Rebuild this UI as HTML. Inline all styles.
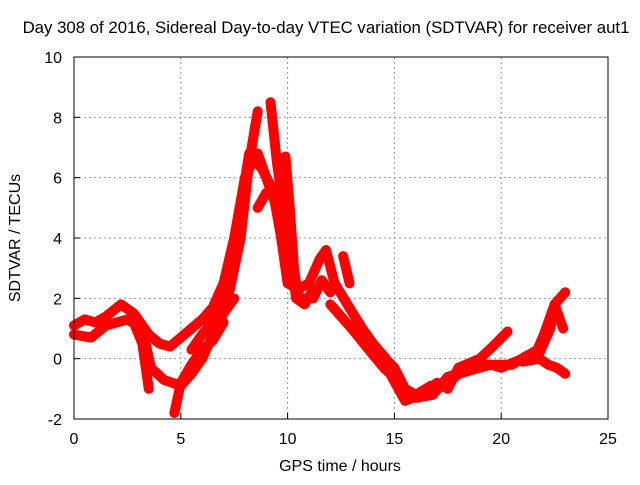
<!DOCTYPE html>
<html><head><meta charset="utf-8"><style>
body{margin:0;background:#fff}
svg text{font-family:"Liberation Sans",sans-serif;font-size:16px;fill:#000}
</style></head><body>
<svg id="chart" width="640" height="480" viewBox="0 0 640 480" xmlns="http://www.w3.org/2000/svg">
<text x="326" y="33" text-anchor="middle" style="font-size:16.8px">Day 308 of 2016, Sidereal Day-to-day VTEC variation (SDTVAR) for receiver aut1</text>
<g id="grid"></g>
<g id="series"></g>
<rect x="74" y="57" width="534" height="362" fill="none" stroke="#000" stroke-width="1"/>
<g id="ticks"></g>
<text x="340" y="471" text-anchor="middle">GPS time / hours</text>
<text transform="translate(20,238) rotate(-90)" text-anchor="middle">SDTVAR / TECUs</text>
</svg>
<script>
const xTicks=[0,5,10,15,20,25];
const yTicks=[-2,0,2,4,6,8,10];
const sA=[[0,1.1],[0.5,1.3],[1,1.2],[1.5,1.4],[2.2,1.8],[2.8,1.5],[3.5,0.8],[4,0.5],[4.5,0.4],[5,0.7],[5.5,1.0],[6,1.3],[6.5,1.7],[7,2.5],[7.5,4],[8,6],[8.4,6.6],[8.8,6.3],[9.3,5.6],[9.7,4],[10,2.5],[10.5,2.3],[11,2.5],[11.5,3.3],[11.8,3.6],[12.2,2.5],[12.8,1.8],[13.5,1.0],[14.3,0.2],[15,-0.3],[15.5,-1.0],[16,-1.2],[16.7,-0.9],[17.5,-0.8],[18.2,-0.4],[19,-0.2],[19.5,-0.2],[20,-0.3],[21,0.0],[21.7,0.3],[22,0.8],[22.5,1.8],[23,2.2]];
const sB=[[5.5,0.3],[6,0.8],[6.8,1.5],[7.3,2.3],[7.8,4],[8.2,6.5],[8.6,8.2]];
const sC=[[9.2,8.5],[9.5,6.5],[9.8,5],[10.1,3.5],[10.4,2],[10.8,1.8],[11.2,2.3]];
const sD=[[0,0.8],[0.8,0.7],[1.5,1.1],[2.5,1.3],[3.2,1.0],[3.6,-0.3],[4.2,-0.7],[5,-0.9],[5.5,-0.5],[6,0],[6.5,0.8],[7,1.5],[7.5,2.0]];
const sE=[[2.8,1.2],[3.2,0.5],[3.5,-1.0]];
const sF=[[4.7,-1.8],[5.0,-0.8],[5.5,-0.2],[6,0.3],[6.5,0.6],[7,1.2]];
const sG=[[8.6,5.0],[9.0,5.5],[9.3,5.6],[9.8,4.5]];
const sH=[[9.9,6.7],[10.1,5],[10.3,3],[10.5,2]];
const sI=[[12.6,3.4],[12.9,2.5]];
const sJ=[[12,1.8],[13,1.0],[13.8,0.3],[14.5,-0.3],[14.8,-0.5],[15.5,-1.4],[16.2,-1.2],[17,-0.8],[17.5,-1.0],[18,-0.3],[19,0.0],[19.6,0.4],[20.3,0.9]];
const sK=[[21.8,0.2],[22.3,1.0],[22.5,1.8],[22.9,1.0]];
const sL=[[21,-0.1],[21.8,0.0],[22.2,-0.2],[22.6,-0.3],[23,-0.5]];
const sM=[[7,2.0],[7.4,3.0],[7.8,5.0],[8.2,6.8],[8.6,6.8],[9.0,6.0],[9.5,5.0],[10,3.0],[10.6,2.0],[11.2,2.0],[11.6,2.6],[12,2.2]];
const sN=[[14,0.5],[14.6,0.0],[15.2,-0.8],[16,-1.3],[16.8,-1.2],[17.5,-0.6],[18.5,-0.4],[19.5,-0.2],[20.5,-0.2],[21.2,0.1]];
const allSeries=[sA,sB,sC,sD,sE,sF,sG,sH,sI,sJ,sK,sL,sM,sN];
const X0=74,X1=608,Y0=419,Y1=57;
const xs=h=>X0+(h-0)/25*(X1-X0);
const ys=v=>Y0-(v+2)/12*(Y0-Y1);
const NS="http://www.w3.org/2000/svg";
const grid=document.getElementById('grid'),ticks=document.getElementById('ticks'),ser=document.getElementById('series');
function mk(t,a){const e=document.createElementNS(NS,t);for(const k in a)e.setAttribute(k,a[k]);return e;}
xTicks.forEach(t=>{const x=xs(t);
 if(t>0&&t<25){const g=mk('line',{x1:x,x2:x,y1:Y1,y2:Y0,stroke:'#999','stroke-dasharray':'2,3'});
 
 grid.appendChild(g);}
 const tk=mk('line',{x1:x,x2:x,y1:Y0,y2:Y0-6,stroke:'#000'});
 
 ticks.appendChild(tk);
 const tl=mk('text',{x:x,y:Y0+25,'text-anchor':'middle'});tl.textContent=t;
 
 ticks.appendChild(tl);});
yTicks.forEach(t=>{const y=ys(t);
 if(t>-2&&t<10){const g=mk('line',{x1:X0,x2:X1,y1:y,y2:y,stroke:'#999','stroke-dasharray':'2,3'});
 
 grid.appendChild(g);}
 const tk=mk('line',{x1:X0,x2:X0+6,y1:y,y2:y,stroke:'#000'});
 
 ticks.appendChild(tk);
 const tl=mk('text',{x:X0-12,y:y+6,'text-anchor':'end'});tl.textContent=t;
 
 ticks.appendChild(tl);});
allSeries.forEach(s=>{
 const p=mk('polyline',{points:s.map(d=>xs(d[0])+','+ys(d[1])).join(' '),fill:'none',stroke:'#ff0000','stroke-width':10,'stroke-linejoin':'round','stroke-linecap':'round'});
 
 
 ser.appendChild(p);});
</script>
</body></html>
